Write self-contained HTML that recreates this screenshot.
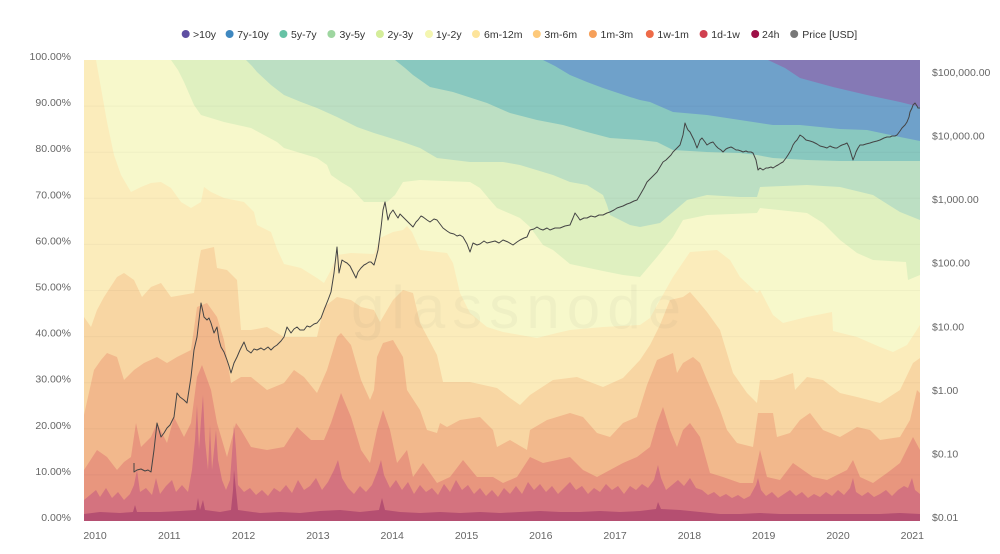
<!DOCTYPE html>
<html>
<head>
<meta charset="utf-8">
<style>
  html,body{margin:0;padding:0;background:#fff;}
  body{width:1000px;height:554px;overflow:hidden;}
  svg{display:block;font-family:"Liberation Sans",sans-serif;}
  .ax{font-size:10.5px;fill:#666;}
  .lg{font-size:10.5px;fill:#333;}
</style>
</head>
<body>
<svg width="1000" height="554" viewBox="0 0 1000 554" xmlns="http://www.w3.org/2000/svg">
  <!-- Legend -->
  <g>
    <circle cx="185.7" cy="34" r="4" fill="#5e4fa2"/><text class="lg" x="193" y="37.8">&gt;10y</text>
    <circle cx="229.6" cy="34" r="4" fill="#3f88c0"/><text class="lg" x="237.3" y="37.8">7y-10y</text>
    <circle cx="283.4" cy="34" r="4" fill="#66c2a5"/><text class="lg" x="291" y="37.8">5y-7y</text>
    <circle cx="331.4" cy="34" r="4" fill="#9ed6a0"/><text class="lg" x="339.5" y="37.8">3y-5y</text>
    <circle cx="379.9" cy="34" r="4" fill="#d4ed9a"/><text class="lg" x="387.5" y="37.8">2y-3y</text>
    <circle cx="429" cy="34" r="4" fill="#f4f6b0"/><text class="lg" x="435.9" y="37.8">1y-2y</text>
    <circle cx="476" cy="34" r="4" fill="#fde49b"/><text class="lg" x="484" y="37.8">6m-12m</text>
    <circle cx="536.8" cy="34" r="4" fill="#fdc97a"/><text class="lg" x="544.4" y="37.8">3m-6m</text>
    <circle cx="592.9" cy="34" r="4" fill="#f6a05a"/><text class="lg" x="600.5" y="37.8">1m-3m</text>
    <circle cx="649.8" cy="34" r="4" fill="#ee6b48"/><text class="lg" x="657.4" y="37.8">1w-1m</text>
    <circle cx="703.6" cy="34" r="4" fill="#d0404f"/><text class="lg" x="711.3" y="37.8">1d-1w</text>
    <circle cx="755.2" cy="34" r="4" fill="#9e1047"/><text class="lg" x="762" y="37.8">24h</text>
    <circle cx="794.2" cy="34" r="4" fill="#777"/><text class="lg" x="802.3" y="37.8">Price [USD]</text>
  </g>

  <!-- Bands -->
  <rect x="84" y="60" width="836" height="461" fill="#8579b5"/>
  <polygon fill="#6fa1ca" points="84,60 768,60 785,68 800,78 833,87 867,95 900,102 920,107 920,521 84,521"/>
  <polygon fill="#89c8bf" points="84,60 543,60 555,66 570,75 587,82 603,88 630,97 640,100 650,102 673,112 707,115 740,120 773,125 800,125 840,129 867,130 900,137 920,141 920,521 84,521"/>
  <polygon fill="#bcdfc3" points="84,60 395,60 405,68 413,75 430,87 453,92 487,103 510,113 537,120 563,125 587,132 610,138 640,140 657,142 673,150 707,152 740,153 757,155 773,158 807,160 840,161 873,161 920,161 920,521 84,521"/>
  <polygon fill="#dff0c0" points="84,60 246,60 252,66 257,72 271,85 284,95 301,102 317,108 337,117 357,127 374,133 387,137 403,142 420,148 437,158 470,162 503,162 520,165 553,175 570,182 587,185 603,195 607,205 610,215 630,225 640,227 660,223 673,212 687,200 707,195 740,197 757,197 760,187 807,185 840,187 873,195 900,212 920,220 920,521 84,521"/>
  <polygon fill="#f7f8cb" points="84,60 171,60 178,70 184,82 194,105 201,115 224,122 251,128 277,142 284,148 317,158 327,165 331,175 341,182 351,188 364,202 387,202 395,195 403,182 420,180 470,182 480,188 490,200 497,208 520,218 530,227 543,245 553,250 570,264 603,271 623,275 640,277 657,257 673,237 683,220 707,215 757,213 760,208 807,213 823,223 840,240 857,253 873,260 906,262 908,280 920,275 920,521 84,521"/>
  <polygon fill="#fbecbb" points="84,60 96,60 101,88 107,122 114,155 121,175 131,192 141,187 151,183 161,182 171,188 181,202 191,208 201,202 204,187 211,192 224,198 244,202 254,212 257,225 271,232 277,249 284,264 301,268 317,278 324,283 331,270 337,255 351,253 374,254 380,238 393,232 403,230 407,226 412,232 420,250 447,253 453,263 460,293 470,313 487,327 503,332 537,338 557,333 570,330 603,327 640,325 650,318 660,300 673,277 690,252 717,250 730,260 740,277 757,293 760,290 773,315 783,323 807,317 832,312 833,331 857,337 880,347 893,352 907,345 920,325 920,521 84,521"/>
  <polygon fill="#f8d6a3" points="84,317 91,327 97,310 104,297 117,277 124,273 134,280 142,297 151,287 161,283 171,297 194,293 199,260 201,250 214,247 217,268 227,270 237,280 241,330 251,330 267,327 284,337 317,337 324,307 337,297 351,300 361,307 374,310 380,322 393,300 403,290 413,293 420,323 437,355 443,382 470,382 497,388 510,398 520,405 530,395 553,380 577,377 603,387 623,378 640,360 650,345 660,325 670,300 683,297 690,292 697,300 707,312 720,330 733,373 747,393 757,403 760,380 773,380 793,373 795,390 807,377 823,380 840,393 857,397 880,403 900,390 913,363 920,358 920,521 84,521"/>
  <polygon fill="#f2b88c" points="84,415 94,370 101,360 107,353 117,357 124,380 134,370 144,363 157,357 167,363 177,357 191,350 197,307 207,303 217,317 224,340 231,383 241,377 251,377 267,390 284,383 294,370 304,377 317,393 327,370 337,337 341,333 351,345 361,380 370,400 374,390 377,357 383,343 393,340 403,357 407,390 420,410 427,430 437,433 440,423 447,427 460,420 480,417 493,430 497,447 510,440 527,450 530,430 547,420 570,413 583,417 597,433 610,437 623,423 637,417 647,385 657,360 673,353 677,373 683,363 693,357 700,363 707,380 720,410 727,430 737,443 753,447 758,413 773,413 777,437 790,433 800,420 810,413 823,430 840,437 857,427 870,430 880,440 900,437 910,420 917,390 920,393 920,521 84,521"/>
  <polygon fill="#e8967e" points="84,470 97,450 107,457 117,470 124,462 131,457 136,423 141,447 151,437 157,423 167,443 174,417 184,437 191,423 197,377 202,365 211,390 217,423 227,457 236,423 241,430 251,447 267,450 284,447 297,427 311,440 324,440 331,423 341,393 351,417 361,450 370,463 377,430 383,410 390,430 397,463 407,450 413,477 423,463 437,483 450,477 463,460 477,477 493,477 503,483 517,477 530,457 543,463 557,460 570,457 583,470 597,477 610,470 623,463 637,457 650,447 657,423 663,407 670,430 677,447 683,430 690,423 700,437 710,473 723,477 740,483 753,483 760,450 767,477 780,480 793,463 813,477 827,480 847,470 853,460 860,477 873,483 887,473 900,463 913,437 920,450 920,521 84,521"/>
  <polygon fill="#d4737f" points="84,500 90,495 96,490 100,497 106,488 112,498 118,492 124,500 130,494 134,485 137,470 140,492 146,488 152,495 156,478 160,494 166,486 172,480 176,492 182,485 188,492 192,470 195,440 197,405 199,450 201,420 203,395 205,440 208,470 210,425 212,470 216,430 218,460 222,480 226,490 230,480 233,440 234,425 236,450 238,485 244,492 250,488 256,495 262,490 268,496 274,488 280,492 286,485 292,493 298,480 304,490 310,486 316,478 322,490 328,482 334,470 338,460 342,478 348,488 354,494 360,486 366,492 372,485 378,470 381,460 384,475 390,488 396,480 402,490 408,482 414,494 420,485 426,492 432,488 438,495 444,484 450,492 456,480 462,490 468,485 474,494 480,488 486,496 492,490 498,497 504,488 510,494 516,486 522,494 528,482 534,490 540,484 546,492 552,486 558,494 564,488 570,482 576,490 582,486 588,494 594,488 600,492 606,484 612,490 618,486 624,494 630,486 636,490 642,484 648,488 654,480 658,465 661,478 666,490 672,485 678,480 684,486 690,478 696,488 702,490 708,495 714,492 720,497 726,494 732,498 738,495 744,499 750,496 756,485 758,478 761,490 766,496 772,492 778,498 784,494 790,490 796,496 802,492 808,498 814,494 820,497 826,492 832,496 838,490 844,495 850,488 853,478 856,492 862,496 868,492 874,497 880,494 886,490 892,496 898,490 904,486 908,488 912,478 915,490 920,494 920,521 84,521"/>
  <polygon fill="#b54f71" points="84,514 100,512 120,513 133,512 135,505 137,512 160,512 180,511 196,510 198,498 200,510 203,500 205,510 220,512 231,510 233,490 234,470 236,490 238,510 260,513 280,512 300,513 320,511 340,510 360,512 379,510 382,498 385,510 400,512 420,513 440,512 460,513 480,512 500,513 520,512 540,511 560,512 580,512 600,511 620,512 640,511 656,509 658,502 661,509 680,510 700,512 720,514 740,514 760,513 780,514 800,514 820,514 840,514 860,514 880,514 900,513 920,514 920,521 84,521"/>

  <!-- Grid lines -->
  <g stroke="#000" stroke-opacity="0.03" stroke-width="1">
    <line x1="84" x2="920" y1="106.1" y2="106.1"/>
    <line x1="84" x2="920" y1="152.2" y2="152.2"/>
    <line x1="84" x2="920" y1="198.3" y2="198.3"/>
    <line x1="84" x2="920" y1="244.4" y2="244.4"/>
    <line x1="84" x2="920" y1="290.5" y2="290.5"/>
    <line x1="84" x2="920" y1="336.6" y2="336.6"/>
    <line x1="84" x2="920" y1="382.7" y2="382.7"/>
    <line x1="84" x2="920" y1="428.8" y2="428.8"/>
    <line x1="84" x2="920" y1="474.9" y2="474.9"/>
  </g>

  <!-- Watermark -->
  <text x="351" y="328" font-size="60" textLength="330" lengthAdjust="spacing" fill="#7a7a60" fill-opacity="0.06">glassnode</text>

  <!-- Price line -->
  <polyline fill="none" stroke="#444" stroke-width="1" stroke-linejoin="round" points="134,463 134,472 137,470 141,469 145,471 148,470 151,472 154,450 157,423 159,430 161,437 164,433 167,428 170,425 174,417 177,393 180,397 184,400 187,403 191,377 194,350 197,337 199,320 201,303 203,312 204,317 207,320 209,318 211,323 214,333 217,327 219,340 221,347 224,352 227,360 229,366 231,373 234,363 237,357 240,350 244,342 247,350 251,353 254,349 257,350 261,348 264,350 268,347 271,350 274,347 277,345 281,341 284,337 287,327 291,333 294,329 297,327 300,330 304,330 307,326 310,327 314,324 317,323 321,318 324,310 328,300 331,292 334,273 337,247 339,273 342,260 345,262 347,263 350,266 352,270 356,278 358,272 361,268 364,265 366,264 369,262 371,262 374,265 376,258 378,250 381,228 383,210 385,202 388,220 390,214 393,210 396,215 398,218 400,214 403,217 406,220 408,222 411,225 413,227 416,222 418,220 421,216 423,217 427,220 430,222 434,219 437,220 440,224 443,228 447,231 450,233 454,234 457,236 460,235 463,237 467,244 470,252 473,243 477,245 480,244 484,241 487,243 491,242 495,241 499,243 503,240 508,242 513,245 517,242 520,240 524,238 527,237 530,230 534,229 537,227 540,229 543,230 547,228 550,230 555,228 560,228 565,226 570,225 573,218 575,213 578,217 580,220 584,218 587,218 591,216 595,217 599,215 603,215 607,213 610,212 614,210 617,208 620,207 623,206 627,204 630,203 634,201 637,200 640,195 644,188 647,182 650,179 653,176 655,174 657,172 660,167 663,162 666,160 668,158 671,155 673,152 677,148 680,145 683,135 685,123 687,128 688,130 690,132 692,136 694,140 697,148 699,143 700,140 702,138 705,142 707,145 710,143 713,142 716,146 718,148 721,150 723,152 726,149 728,148 731,147 733,148 736,150 738,150 741,151 743,152 746,151 748,152 751,152 753,153 756,160 758,170 760,168 763,170 766,168 768,168 771,167 773,168 776,166 778,165 781,163 783,162 786,158 788,155 791,150 793,145 795,142 797,140 800,135 803,137 806,140 810,141 813,142 817,144 820,146 824,147 827,148 830,146 832,147 835,148 837,148 840,146 842,145 845,144 847,143 849,147 850,150 853,160 855,155 856,152 858,148 860,145 863,145 866,144 870,143 873,142 877,141 880,140 884,138 887,137 890,137 892,136 895,136 897,135 900,131 902,128 905,125 907,122 909,117 910,112 912,108 913,105 915,103 917,106 918,108 920,108"/>

  <!-- Left axis labels -->
  <g class="ax" text-anchor="end">
    <text x="71" y="60">100.00%</text>
    <text x="71" y="106.1">90.00%</text>
    <text x="71" y="152.2">80.00%</text>
    <text x="71" y="198.3">70.00%</text>
    <text x="71" y="244.4">60.00%</text>
    <text x="71" y="290.5">50.00%</text>
    <text x="71" y="336.6">40.00%</text>
    <text x="71" y="382.7">30.00%</text>
    <text x="71" y="428.8">20.00%</text>
    <text x="71" y="474.9">10.00%</text>
    <text x="71" y="521">0.00%</text>
  </g>

  <!-- Right axis labels -->
  <g class="ax">
    <text x="932" y="76">$100,000.00</text>
    <text x="932" y="139.6">$10,000.00</text>
    <text x="932" y="203.2">$1,000.00</text>
    <text x="932" y="266.7">$100.00</text>
    <text x="932" y="330.3">$10.00</text>
    <text x="932" y="393.9">$1.00</text>
    <text x="932" y="457.4">$0.10</text>
    <text x="932" y="521">$0.01</text>
  </g>

  <!-- X axis labels -->
  <g class="ax" text-anchor="middle">
    <text x="95" y="539">2010</text>
    <text x="169.3" y="539">2011</text>
    <text x="243.6" y="539">2012</text>
    <text x="317.9" y="539">2013</text>
    <text x="392.2" y="539">2014</text>
    <text x="466.5" y="539">2015</text>
    <text x="540.8" y="539">2016</text>
    <text x="615.1" y="539">2017</text>
    <text x="689.4" y="539">2018</text>
    <text x="763.7" y="539">2019</text>
    <text x="838" y="539">2020</text>
    <text x="912.3" y="539">2021</text>
  </g>
</svg>
</body>
</html>
